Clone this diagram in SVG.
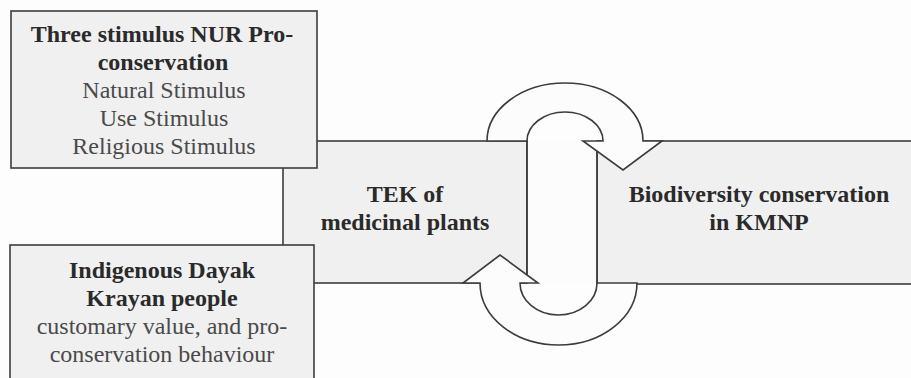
<svg xmlns="http://www.w3.org/2000/svg" width="911" height="378" viewBox="0 0 911 378">
<style>
.box{fill:#f0f0f0;stroke:#3c3c3c;stroke-width:1.6}
.arr{fill:#fcfcfc;stroke:#3c3c3c;stroke-width:1.6;stroke-linejoin:miter}
.strip{fill:#fcfcfc;stroke:none}
.b{font-weight:bold;fill:#2a2a2a}
.r{fill:#4a4a4a}
</style>
<rect width="911" height="378" fill="#fdfdfd"/>
<g font-family="'Liberation Serif', 'DejaVu Serif', serif" font-size="24" text-anchor="middle">
<g id="tek">
<rect class="box" x="283" y="141" width="244" height="142"/>
<text class="b" x="405" y="202">TEK of</text>
<text class="b" x="405" y="230">medicinal plants</text>
</g>
<g id="biodiversity">
<rect class="box" x="597" y="141" width="320" height="143"/>
<text class="b" x="759" y="202">Biodiversity conservation</text>
<text class="b" x="759" y="230">in KMNP</text>
</g>
<g id="stimulus">
<rect class="box" x="11" y="11" width="306" height="157"/>
<text class="b" x="162" y="42">Three stimulus NUR Pro-</text>
<text class="b" x="163" y="70">conservation</text>
<text class="r" x="164" y="98">Natural Stimulus</text>
<text class="r" x="164" y="126">Use Stimulus</text>
<text class="r" x="164" y="154">Religious Stimulus</text>
</g>
<g id="dayak">
<rect class="box" x="10" y="245" width="304" height="140"/>
<text class="b" x="162" y="278">Indigenous Dayak</text>
<text class="b" x="162" y="306">Krayan people</text>
<text class="r" x="162" y="334">customary value, and pro-</text>
<text class="r" x="162" y="362">conservation behaviour</text>
</g>
</g>
<g id="connectors">
<rect class="strip" x="527.8" y="141" width="68.4" height="142"/>
<line x1="527" y1="141" x2="527" y2="283" stroke="#3c3c3c" stroke-width="1.6"/>
<line x1="597" y1="141" x2="597" y2="284" stroke="#3c3c3c" stroke-width="1.6"/>
<path class="arr" d="M487,141 A78,58 0 0 1 643,141 L662,141 L623,170 L583,141 L603,141 A38,29 0 0 0 527,141 Z"/>
<path class="arr" d="M637,283 A78.5,62 0 0 1 480,283 L463,283 L500,255 L538,283 L520,283 A38.5,32 0 0 0 597,283 Z"/>
</g>
</svg>
